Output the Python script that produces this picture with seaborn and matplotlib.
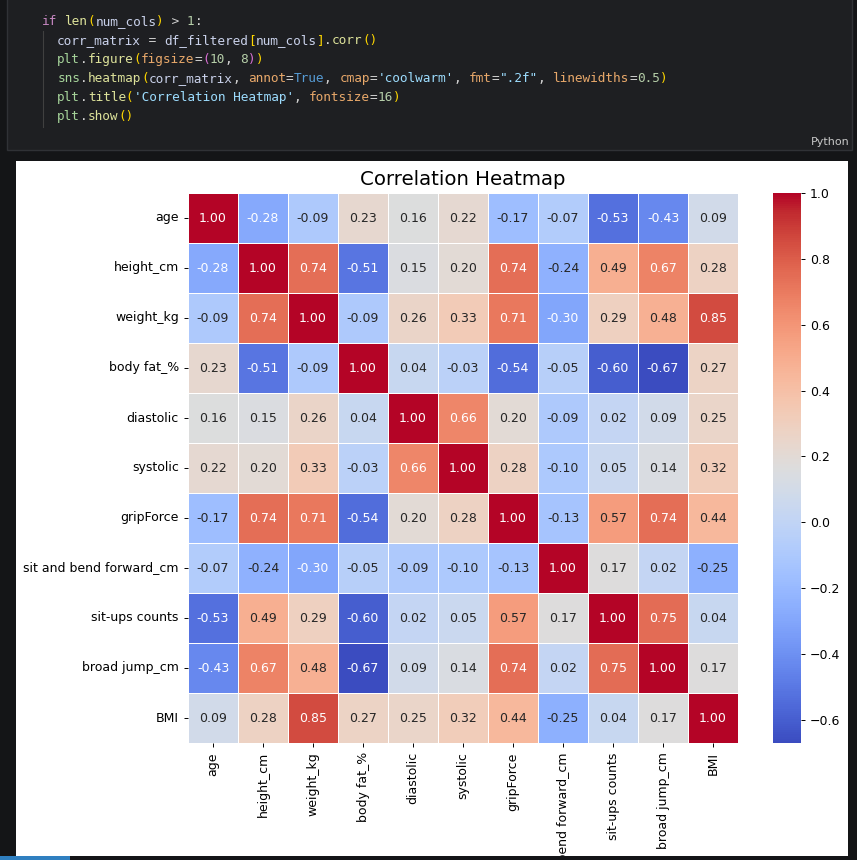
import pandas as pd
import seaborn as sns
import matplotlib.pyplot as plt
from matplotlib.patches import Rectangle

# column names and the correlation rows
cols = ['age', 'height_cm', 'weight_kg', 'body fat_%', 'diastolic', 'systolic',
        'gripForce', 'sit and bend forward_cm', 'sit-ups counts', 'broad jump_cm', 'BMI']
age = [1.00, -0.28, -0.09, 0.23, 0.16, 0.22, -0.17, -0.07, -0.53, -0.43, 0.09]
height_cm = [-0.28, 1.00, 0.74, -0.51, 0.15, 0.20, 0.74, -0.24, 0.49, 0.67, 0.28]
weight_kg = [-0.09, 0.74, 1.00, -0.09, 0.26, 0.33, 0.71, -0.30, 0.29, 0.48, 0.85]
body_fat = [0.23, -0.51, -0.09, 1.00, 0.04, -0.03, -0.54, -0.05, -0.60, -0.67, 0.27]
diastolic = [0.16, 0.15, 0.26, 0.04, 1.00, 0.66, 0.20, -0.09, 0.02, 0.09, 0.25]
systolic = [0.22, 0.20, 0.33, -0.03, 0.66, 1.00, 0.28, -0.10, 0.05, 0.14, 0.32]
grip_force = [-0.17, 0.74, 0.71, -0.54, 0.20, 0.28, 1.00, -0.13, 0.57, 0.74, 0.44]
sit_bend = [-0.07, -0.24, -0.30, -0.05, -0.09, -0.10, -0.13, 1.00, 0.17, 0.02, -0.25]
sit_ups = [-0.53, 0.49, 0.29, -0.60, 0.02, 0.05, 0.57, 0.17, 1.00, 0.75, 0.04]
broad_jump = [-0.43, 0.67, 0.48, -0.67, 0.09, 0.14, 0.74, 0.02, 0.75, 1.00, 0.17]
bmi = [0.09, 0.28, 0.85, 0.27, 0.25, 0.32, 0.44, -0.25, 0.04, 0.17, 1.00]

corr_matrix = pd.DataFrame([age, height_cm, weight_kg, body_fat, diastolic, systolic,
                            grip_force, sit_bend, sit_ups, broad_jump, bmi],
                           index=cols, columns=cols)

# the notebook cell shown above the output
code_lines = [
    [('if', 'kw'), (' ', 'p'), ('len', 'fn'), ('(', 'b1'), ('num_cols', 'id'), (')', 'b1'),
     (' > ', 'p'), ('1', 'num'), (':', 'p')],
    [('  ', 'p'), ('corr_matrix', 'id'), (' = ', 'p'), ('df_filtered', 'id'), ('[', 'b1'),
     ('num_cols', 'id'), (']', 'b1'), ('.', 'p'), ('corr', 'fn'), ('()', 'b1')],
    [('  ', 'p'), ('plt', 'mod'), ('.', 'p'), ('figure', 'fn'), ('(', 'b1'), ('figsize', 'par'),
     ('=', 'p'), ('(', 'b2'), ('10', 'num'), (', ', 'p'), ('8', 'num'), (')', 'b2'), (')', 'b1')],
    [('  ', 'p'), ('sns', 'mod'), ('.', 'p'), ('heatmap', 'fn'), ('(', 'b1'), ('corr_matrix', 'id'),
     (', ', 'p'), ('annot', 'par'), ('=', 'p'), ('True', 'const'), (', ', 'p'), ('cmap', 'par'),
     ('=', 'p'), ("'coolwarm'", 'str'), (', ', 'p'), ('fmt', 'par'), ('=', 'p'), ('".2f"', 'str'),
     (', ', 'p'), ('linewidths', 'par'), ('=', 'p'), ('0.5', 'num'), (')', 'b1')],
    [('  ', 'p'), ('plt', 'mod'), ('.', 'p'), ('title', 'fn'), ('(', 'b1'),
     ("'Correlation Heatmap'", 'str'), (', ', 'p'), ('fontsize', 'par'), ('=', 'p'), ('16', 'num'),
     (')', 'b1')],
    [('  ', 'p'), ('plt', 'mod'), ('.', 'p'), ('show', 'fn'), ('()', 'b1')],
]
code_colors = {'kw': '#c586c0', 'fn': '#dde29a', 'id': '#c9d1ea', 'p': '#d4d4d4',
               'b1': '#ffd700', 'b2': '#da70d6', 'num': '#b5cea8', 'mod': '#a6d49a',
               'par': '#e8a86a', 'str': '#9cdcfe', 'const': '#569cd6'}

W, H = 857, 860
fig = plt.figure(figsize=(W / 100, H / 100), dpi=100, facecolor='#141517')


def box(x0, y0, x1, y1, **kw):
    # pixel coords measured from the top left
    fig.add_artist(Rectangle((x0 / W, 1 - y1 / H), (x1 - x0) / W, (y1 - y0) / H,
                             transform=fig.transFigure, **kw))


# code cell
box(7, -3, 852, 150, facecolor='#1e1f22', edgecolor='#303236', lw=1, zorder=-2)
fig.add_artist(plt.Line2D([43 / W, 43 / W], [1 - 31 / H, 1 - 127 / H],
                          transform=fig.transFigure, color='#404040', lw=0.8, zorder=-1))
fs = 9.2
# measure the real monospace advance so tokens sit on the same grid
renderer = fig.canvas.get_renderer()
probe = fig.text(0, 0, '0' * 100, family='DejaVu Sans Mono', fontsize=fs)
cw = probe.get_window_extent(renderer).width / 100
probe.remove()
for i, line in enumerate(code_lines):
    y = 21.3 + 19 * i
    n = 0
    for tok, kind in line:
        if tok.strip():
            fig.text((42 + n * cw) / W, 1 - y / H, tok, family='DejaVu Sans Mono', fontsize=fs,
                     color=code_colors[kind], va='center', ha='left')
        n += len(tok)
fig.text(850 / W, 1 - 142 / H, 'Python', fontsize=8, color='#c8c8c8', ha='right', va='center')

# white output panel
box(16, 161, 848, 856, facecolor='white', edgecolor='none', zorder=-2)

ax = fig.add_axes([188 / W, 1 - 743 / H, 550 / W, 550 / H])
cax = fig.add_axes([773 / W, 1 - 743 / H, 28 / W, 550 / H])
sns.heatmap(corr_matrix, annot=True, cmap='coolwarm', fmt='.2f', linewidths=0.5,
            ax=ax, cbar_ax=cax, annot_kws={'size': 9})
ax.set_title('Correlation Heatmap', fontsize=14.2)
ax.set_xticklabels(cols, rotation=90)
ax.set_yticklabels(cols, rotation=0)
ax.tick_params(labelsize=9, length=3.1, width=0.7)
cax.tick_params(labelsize=9, length=3.1, width=0.7)

# dark strip at the bottom edge
box(0, 856, 857, 861, facecolor='#141517', edgecolor='none', zorder=10)
box(0, 856, 70, 861, facecolor='#2f7fc0', edgecolor='none', zorder=11)

fig.savefig('out.png', dpi=100, facecolor=fig.get_facecolor())
